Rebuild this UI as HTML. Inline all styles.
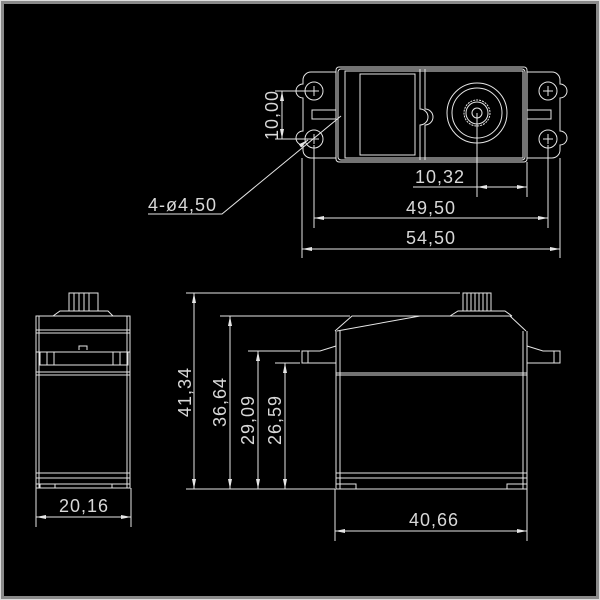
<!DOCTYPE html><html><head><style>html,body{margin:0;padding:0;background:#000}
.f{position:absolute;left:0;top:0;width:600px;height:600px;box-sizing:border-box;border:1px solid #ddd;}
.g{position:absolute;left:1px;top:1px;width:598px;height:598px;box-sizing:border-box;border:3px solid #8a8a8a;}
svg{position:absolute;left:0;top:0}
text{font-family:"Liberation Sans",sans-serif;font-size:18px;fill:#d8d8d8;letter-spacing:1px}
</style></head><body>
<div class="f"></div><div class="g"></div>
<svg width="600" height="600" viewBox="0 0 600 600" fill="none" stroke="#e6e6e6" stroke-width="1">
<defs><marker id="a" viewBox="0 0 10 4" refX="10" refY="2" markerWidth="10" markerHeight="4" orient="auto-start-reverse" markerUnits="userSpaceOnUse"><path d="M0,0L10,2L0,4z" fill="#e6e6e6" stroke="none"/></marker></defs>
<path d="M336,72H311a8,8 0 0 0 -8,8v4a6,6 0 0 0 0,14v33a6,6 0 0 0 0,14v5a8,8 0 0 0 8,8H336"/>
<path d="M527,72H552a8,8 0 0 1 8,8v4a6,6 0 0 1 0,14v33a6,6 0 0 1 0,14v5a8,8 0 0 1 -8,8H527"/>
<circle cx="314" cy="91" r="9"/><circle cx="314" cy="139" r="9"/><circle cx="548" cy="91" r="9"/><circle cx="548" cy="139" r="9"/>
<path d="M309,91h10M314,86v10M309,139h10M314,134v10M543,91h10M548,86v10M543,139h10M548,134v10"/>
<rect x="312" y="110" width="24" height="9"/><rect x="527" y="110" width="24" height="9"/>
<rect x="336" y="67" width="191" height="95" rx="3"/><rect x="338" y="69" width="187" height="91" rx="3"/>
<rect x="345" y="71" width="178" height="87"/>
<rect x="360" y="74" width="55" height="81"/><path d="M420,69v40a8,8 0 0 1 0,16v35M425,69v40a8,8 0 0 1 0,16v35"/>
<circle cx="477" cy="113" r="30"/><circle cx="477" cy="113" r="25"/><circle cx="477" cy="113" r="13" stroke-dasharray="2 1"/><circle cx="477" cy="113" r="11"/><circle cx="477" cy="113" r="5"/>
<path d="M275,91H314M275,139H314"/><path d="M282,91V139" marker-start="url(#a)" marker-end="url(#a)"/>
<path d="M477,113V197M527,162V197M314,145V228M548,145V228M302,158V258M560,158V258"/>
<path d="M413,187H527"/><path d="M477,187H527" marker-start="url(#a)" marker-end="url(#a)"/>
<path d="M314,218H548" marker-start="url(#a)" marker-end="url(#a)"/>
<path d="M302,249H560" marker-start="url(#a)" marker-end="url(#a)"/>
<path d="M148,214H222L341,116"/><path d="M300,146L308,140" marker-end="url(#a)"/>
<rect x="69" y="293" width="29" height="18"/><path d="M74,293v18M79,293v18M84,293v18M89,293v18"/>
<path d="M53,316L60,311H108L113,316"/>
<rect x="36" y="316" width="94" height="172"/><path d="M39,316V488M127,316V488M36,330H130M36,333H130M36,352H130M36,372H130M36,375H130M36,473H130M36,478H130M36,484H130"/>
<path d="M40,352v13h88v-13M47,352v13M54,352v13M113,352v13M120,352v13M79,350v-4h8v4"/>
<path d="M40,484v4h15v-4M112,484v4h15v-4"/>
<path d="M36,488V527M131,488V527"/><path d="M36,517H131" marker-start="url(#a)" marker-end="url(#a)"/>
<path d="M186,293H460M220,316H350M248,351H300M275,363H300M186,489H335"/>
<path d="M194,293V489" marker-start="url(#a)" marker-end="url(#a)"/>
<path d="M230,316V489" marker-start="url(#a)" marker-end="url(#a)"/>
<path d="M258,351V489" marker-start="url(#a)" marker-end="url(#a)"/>
<path d="M285,363V489" marker-start="url(#a)" marker-end="url(#a)"/>
<rect x="463" y="293" width="28" height="18"/><path d="M467,293v18M471,293v18M475,293v18M479,293v18M483,293v18M487,293v18"/>
<path d="M450,316L458,311H505L512,316"/>
<path d="M335,331L352,316H510L526,331M337,331L420,316H512"/>
<path d="M336,331V489H527V331M340,331V489M523,331V489M336,373H527M336,375H527M336,473H527M336,478H527"/>
<path d="M336,346L320,351H302V363H336M308,351V363"/>
<path d="M527,346L543,351H560V363H527M554,351V363"/>
<path d="M336,489v-5h20v5M507,489v-5h20v5"/>
<path d="M335,489V541M527,489V541"/><path d="M335,531H527" marker-start="url(#a)" marker-end="url(#a)"/>
</svg>
<svg width="600" height="600" viewBox="0 0 600 600">
<text x="440" y="183" text-anchor="middle">10,32</text>
<text x="431" y="214" text-anchor="middle">49,50</text>
<text x="431" y="244" text-anchor="middle">54,50</text>
<text x="148" y="211">4-ø4,50</text>
<text transform="translate(278,115) rotate(-90)" text-anchor="middle">10,00</text>
<text x="84" y="512" text-anchor="middle">20,16</text>
<text x="434" y="526" text-anchor="middle">40,66</text>
<text transform="translate(191,392) rotate(-90)" text-anchor="middle">41,34</text>
<text transform="translate(226,402) rotate(-90)" text-anchor="middle">36,64</text>
<text transform="translate(254,420) rotate(-90)" text-anchor="middle">29,09</text>
<text transform="translate(281,420) rotate(-90)" text-anchor="middle">26,59</text>
</svg>
</body></html>
